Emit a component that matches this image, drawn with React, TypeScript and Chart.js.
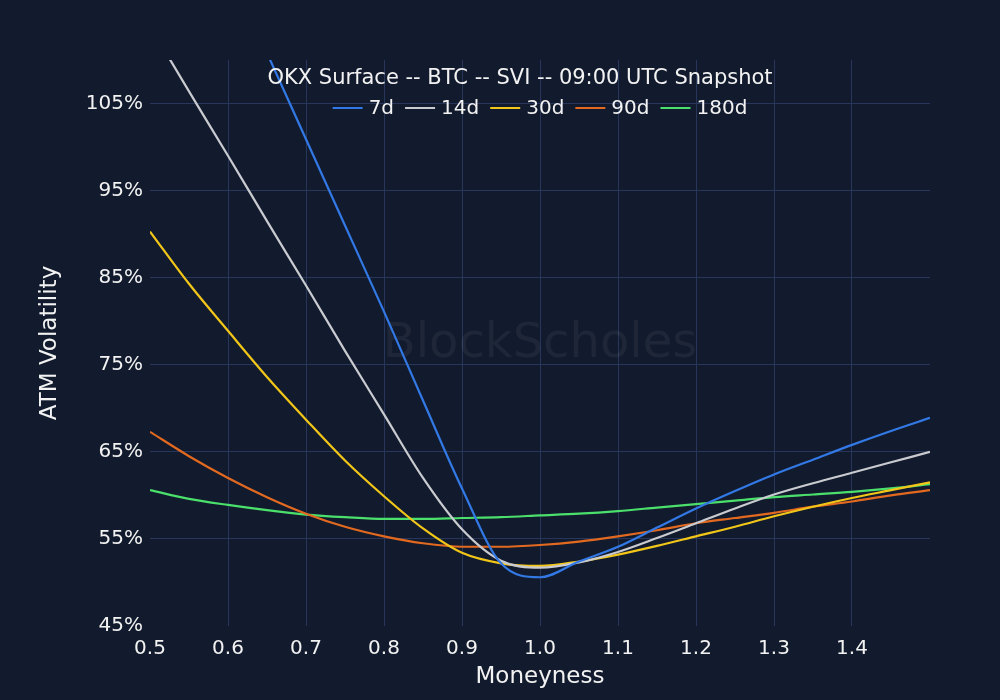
import React, { useEffect, useRef } from "react";
import { Chart, registerables } from "chart.js";

Chart.register(...registerables);

const chartTitle = "OKX Surface -- BTC -- SVI -- 09:00 UTC Snapshot";
const watermark = "BlockScholes";
const xAxisTitle = "Moneyness";
const yAxisTitle = "ATM Volatility";

const moneyness = [0.5, 0.55, 0.6, 0.65, 0.7, 0.75, 0.8, 0.85, 0.9, 0.95, 1.0, 1.05, 1.1, 1.15, 1.2, 1.25, 1.3, 1.35, 1.4, 1.45, 1.5];

const seriesLabels = ["7d", "14d", "30d", "90d", "180d"];
const seriesColors = ["#3279e6", "#c9cbd0", "#f2c619", "#e2691f", "#4be06c"];

const vol7d = [139, 130, 120.5, 110.8, 100.9, 91.0, 81.1, 70.9, 60.8, 52.2, 50.6, 52.4, 54.1, 56.3, 58.5, 60.5, 62.4, 64.1, 65.8, 67.4, 68.9];
const vol14d = [113.9, 106.4, 99.0, 91.5, 84.1, 76.6, 69.3, 62.0, 56.1, 52.5, 51.7, 52.3, 53.5, 55.1, 56.8, 58.5, 60.1, 61.4, 62.6, 63.8, 65.0];
const vol30d = [90.3, 84.3, 78.9, 73.6, 68.7, 64.0, 59.9, 56.2, 53.4, 52.2, 51.9, 52.4, 53.2, 54.2, 55.3, 56.4, 57.6, 58.7, 59.7, 60.6, 61.5];
const vol90d = [67.3, 64.5, 62.0, 59.8, 57.9, 56.4, 55.3, 54.5, 54.1, 54.1, 54.3, 54.7, 55.3, 56.0, 56.8, 57.4, 58.0, 58.7, 59.3, 60.0, 60.6];
const vol180d = [60.6, 59.6, 58.9, 58.3, 57.8, 57.5, 57.3, 57.3, 57.4, 57.5, 57.7, 57.9, 58.2, 58.6, 59.0, 59.4, 59.8, 60.1, 60.4, 60.8, 61.3];

const xTicks = [0.5, 0.6, 0.7, 0.8, 0.9, 1.0, 1.1, 1.2, 1.3, 1.4];
const yTicks = [45, 55, 65, 75, 85, 95, 105];

const FONT = "'DejaVu Sans', Verdana, sans-serif";
const BG = "#121b2d";
const GRID = "#27365a";
const TEXT = "#f2f2f2";

const overlayPlugin = {
  id: "overlay",
  beforeDatasetsDraw(chart: any) {
    const { ctx, chartArea } = chart;
    ctx.save();
    ctx.font = `48px ${FONT}`;
    ctx.fillStyle = "rgba(255,255,255,0.05)";
    ctx.textAlign = "center";
    ctx.textBaseline = "middle";
    ctx.fillText(watermark, (chartArea.left + chartArea.right) / 2, chartArea.top + 285);
    ctx.restore();
  },
  afterDraw(chart: any) {
    const { ctx, chartArea } = chart;
    ctx.save();
    ctx.fillStyle = TEXT;
    ctx.textBaseline = "middle";
    ctx.textAlign = "center";
    ctx.font = `21px ${FONT}`;
    ctx.fillText(chartTitle, 520, chartArea.top + 19);

    ctx.font = `20px ${FONT}`;
    const lineW = 30;
    const gap1 = 6;
    const gap2 = 11;
    const items = chart.data.datasets.map((d: any) => ({
      label: d.label,
      color: d.borderColor,
      w: ctx.measureText(d.label).width,
    }));
    let total = 0;
    items.forEach((it: any, i: number) => {
      total += lineW + gap1 + it.w + (i < items.length - 1 ? gap2 : 0);
    });
    let x = (chartArea.left + chartArea.right) / 2 - total / 2;
    const y = chartArea.top + 48;
    ctx.textAlign = "left";
    items.forEach((it: any) => {
      ctx.strokeStyle = it.color;
      ctx.lineWidth = 2;
      ctx.beginPath();
      ctx.moveTo(x, y);
      ctx.lineTo(x + lineW, y);
      ctx.stroke();
      x += lineW + gap1;
      ctx.fillStyle = TEXT;
      ctx.fillText(it.label, x, y + 1);
      x += it.w + gap2;
    });
    ctx.restore();
  },
};

export default function App() {
  const canvasRef = useRef<HTMLCanvasElement | null>(null);

  useEffect(() => {
    const canvas = canvasRef.current;
    if (!canvas) return;
    const allSeries = [vol7d, vol14d, vol30d, vol90d, vol180d];
    const chart = new Chart(canvas, {
      type: "line",
      data: {
        datasets: allSeries.map((vals, i) => ({
          label: seriesLabels[i],
          data: moneyness.map((m, j) => ({ x: m, y: vals[j] })),
          borderColor: seriesColors[i],
          backgroundColor: seriesColors[i],
          borderWidth: 2.2,
          pointRadius: 0,
          fill: false,
          cubicInterpolationMode: "monotone",
        })),
      },
      options: {
        animation: false,
        responsive: false,
        maintainAspectRatio: false,
        layout: { padding: { top: 60, right: 70, left: 0, bottom: 0 } },
        plugins: {
          legend: { display: false },
          title: { display: false },
          tooltip: { enabled: false },
        },
        scales: {
          x: {
            type: "linear",
            min: 0.5,
            max: 1.5,
            afterBuildTicks: (scale: any) => {
              scale.ticks = xTicks.map((v) => ({ value: v }));
            },
            afterFit: (scale: any) => {
              scale.height = 74;
            },
            ticks: {
              color: TEXT,
              font: { family: FONT, size: 20 },
              padding: 11,
              maxRotation: 0,
              autoSkip: false,
              callback: (v: any) => Number(v).toFixed(1),
            },
            grid: {
              color: (c: any) => (c.tick && c.tick.value === 0.5 ? "rgba(0,0,0,0)" : GRID),
              drawTicks: false,
              lineWidth: 1,
            },
            border: { display: false },
            title: {
              display: true,
              text: xAxisTitle,
              color: TEXT,
              font: { family: FONT, size: 23 },
              padding: { top: 0, bottom: 9 },
            },
          },
          y: {
            type: "linear",
            min: 45,
            max: 110,
            afterBuildTicks: (scale: any) => {
              scale.ticks = yTicks.map((v) => ({ value: v }));
            },
            afterFit: (scale: any) => {
              scale.width = 150;
            },
            ticks: {
              color: TEXT,
              font: { family: FONT, size: 20 },
              padding: 7,
              autoSkip: false,
              callback: (v: any) => `${v}%`,
            },
            grid: {
              color: (c: any) => (c.tick && c.tick.value === 45 ? "rgba(0,0,0,0)" : GRID),
              drawTicks: false,
              lineWidth: 1,
            },
            border: { display: false },
            title: {
              display: true,
              text: yAxisTitle,
              color: TEXT,
              font: { family: FONT, size: 23 },
              padding: { top: 36, bottom: 0 },
            },
          },
        },
      },
      plugins: [overlayPlugin],
    });
    return () => chart.destroy();
  }, []);

  return (
    <div style={{ position: "fixed", left: 0, top: 0, width: 1000, height: 700, background: BG }}>
      <canvas ref={canvasRef} width={1000} height={700} style={{ width: 1000, height: 700, display: "block" }} />
    </div>
  );
}
